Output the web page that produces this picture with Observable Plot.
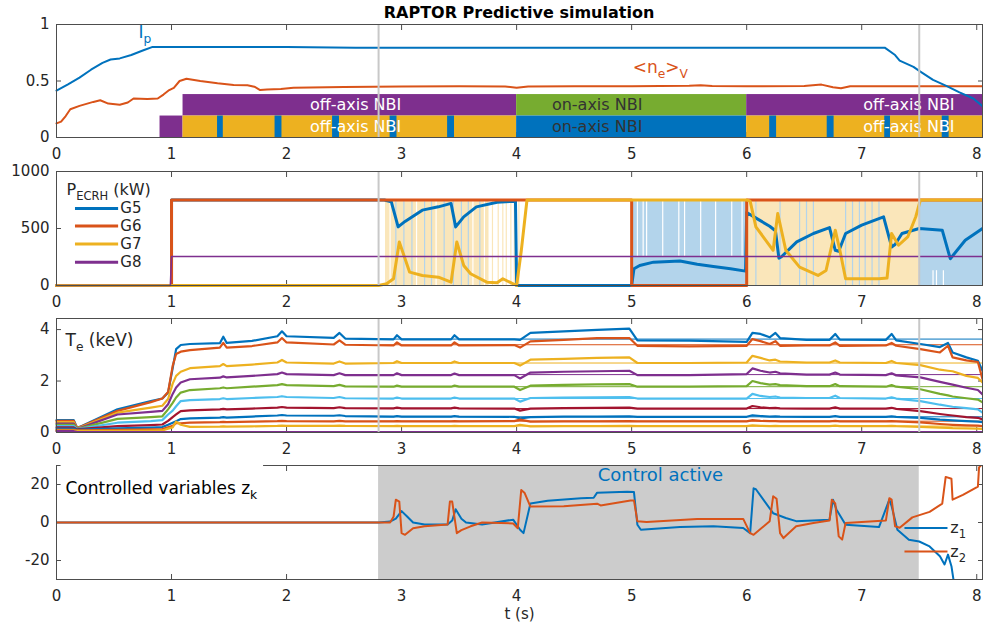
<!DOCTYPE html>
<html>
<head>
<meta charset="utf-8">
<script src="https://cdn.jsdelivr.net/npm/d3@7"></script>
<script src="https://cdn.jsdelivr.net/npm/@observablehq/plot@0.6"></script>
<style>
  html, body { margin: 0; padding: 0; background: #fff; }
  #chart { position: relative; width: 983px; height: 631px; font-family: "DejaVu Sans", sans-serif; overflow: hidden; }
  #chart svg { position: absolute; left: 0; }
  #title { position: absolute; top: 5px; left: 56px; width: 926px; text-align: center; font-weight: bold; font-size: 16px; line-height: 16px; color: #000; z-index: 5; }
</style>
</head>
<body>
<div id="chart"><div id="title">RAPTOR Predictive simulation</div></div>
<script>
// ---------------- data ----------------
const tDomain = [0, 8.05];
const tTicks = [0, 1, 2, 3, 4, 5, 6, 7, 8];
const controlWindow = [2.8, 7.5];

// Panel 1: plasma current and density (normalised)
const ipT = [0,0.1,0.2,0.3,0.4,0.47,0.55,0.65,0.75,0.83,0.9,1.5,2.0,2.6,3.0,4.0,5.0,6.0,7.0,7.2,7.29,7.33,7.45,7.5,7.62,7.74,7.85,7.97,8.05];
const ipV = [0.415,0.47,0.53,0.60,0.66,0.69,0.70,0.73,0.77,0.80,0.80,0.80,0.80,0.795,0.795,0.795,0.795,0.795,0.795,0.795,0.73,0.68,0.625,0.59,0.51,0.455,0.40,0.345,0.277];
const neT = [0,0.04,0.08,0.12,0.2,0.32,0.38,0.45,0.55,0.62,0.67,0.79,0.88,0.93,0.98,1.02,1.07,1.13,1.25,1.4,1.54,1.66,1.72,1.77,1.83,1.95,2.06,2.5,3.0,3.5,3.9,4.0,4.1,4.5,5.0,5.5,5.6,5.7,6.0,6.5,6.65,6.75,6.82,6.9,7.5,8.05];
const neV = [0.125,0.14,0.19,0.25,0.28,0.315,0.33,0.30,0.29,0.31,0.345,0.34,0.345,0.38,0.42,0.44,0.50,0.52,0.50,0.48,0.465,0.462,0.45,0.42,0.425,0.43,0.44,0.448,0.452,0.454,0.452,0.44,0.452,0.454,0.454,0.458,0.462,0.456,0.454,0.456,0.468,0.445,0.435,0.454,0.454,0.454];
const nbiUpper = [
  {t1: 1.10, t2: 4.0, beam: "off"},
  {t1: 4.0, t2: 6.0, beam: "on"},
  {t1: 6.0, t2: 8.05, beam: "off"}
];
const nbiLower = [
  {t1: 0.90, t2: 1.10, beam: "pre"},
  {t1: 1.10, t2: 4.0, beam: "off"},
  {t1: 4.0, t2: 6.0, beam: "on"},
  {t1: 6.0, t2: 8.05, beam: "off"}
];
const nbiNotches = [[1.40,1.45],[1.90,1.96],[2.40,2.46],[2.90,2.96],[3.40,3.46],[6.20,6.26],[6.70,6.76],[7.20,7.25],[7.70,7.76]];
const nbiRows = {lower: [0, 0.19], upper: [0.19, 0.38]};
const nbiLabels = [
  {t: 2.6, row: "upper", text: "off-axis NBI", beam: "off"},
  {t: 2.6, row: "lower", text: "off-axis NBI", beam: "off"},
  {t: 4.7, row: "upper", text: "on-axis NBI", beam: "on"},
  {t: 4.7, row: "lower", text: "on-axis NBI", beam: "on"},
  {t: 7.41, row: "upper", text: "off-axis NBI", beam: "off"},
  {t: 7.41, row: "lower", text: "off-axis NBI", beam: "off"}
];

// Panel 2: ECRH power per gyrotron (kW)
const g5 = [[0,0],[1.0,0],[1.0,750],[2.85,750],[2.91,735],[2.97,514],[3.03,562],[3.18,661],[3.32,690],[3.43,720],[3.47,514],[3.54,602],[3.65,690],[3.83,730],[3.99,740],[4.0,0],[5.0,0],[5.02,147],[5.07,176],[5.19,205],[5.42,215],[5.57,186],[5.71,166],[5.86,147],[5.99,126],[6.0,640],[6.1,580],[6.2,520],[6.25,480],[6.28,240],[6.3,250],[6.435,382],[6.58,456],[6.72,508],[6.77,309],[6.8,300],[6.86,456],[7.0,529],[7.19,602],[7.26,338],[7.29,360],[7.35,456],[7.5,500],[7.7,485],[7.77,235],[7.9,397],[8.05,500]];
const g6 = [[0,0],[1.0,0],[1.0,750],[5.0,750],[5.0,0],[6.0,0],[6.0,750],[8.05,750]];
const g7 = [[0,0],[2.8,0],[2.87,15],[2.93,59],[2.98,382],[3.03,235],[3.07,117],[3.18,88],[3.32,73],[3.43,29],[3.48,382],[3.54,176],[3.6,103],[3.74,29],[3.83,25],[3.88,59],[3.94,29],[4.0,0],[4.04,300],[4.09,750],[6.0,750],[6.03,740],[6.08,514],[6.23,309],[6.27,632],[6.34,309],[6.46,161],[6.62,88],[6.69,132],[6.77,485],[6.81,309],[6.86,59],[7.15,59],[7.22,65],[7.26,456],[7.32,353],[7.4,426],[7.47,603],[7.51,750],[8.05,750]];
const g8 = [[0,0],[0.99,0],[1.0,255],[8.05,255]];
const ecrhMax = 750;
const ecrhBands = [
  {t1: 2.86, t2: 3.76, g: "G7"},
  {t1: 5.0, t2: 6.0, g: "G5"},
  {t1: 6.0, t2: 7.5, g: "G7"},
  {t1: 7.5, t2: 8.05, g: "G5"}
];
const stripeYellowT = [3.79,3.84,3.88,3.91,3.95,3.98,4.02];
const stripeBlueEarlyT = [2.95,3.02,3.09,3.2,3.26,3.37,3.45,3.52,3.58,3.68];
const stripeGapEarlyT = [2.9,3.13,3.3,3.62,3.72];
const stripeGapMidT = [5.05,5.1,5.13,5.27,5.41,5.46,5.6,5.73,5.87,5.96];
const stripeBlueLateT = [6.08,6.29,6.46,6.52,6.58,6.86,6.92,6.98,7.03,7.09,7.15];
const stripeGapLateT = [7.62,7.65,7.71];
const ecrhStripes = [
  ...stripeYellowT.map(t => ({t, p1: 0, p2: 750, g: "G7"})),
  ...stripeBlueEarlyT.map(t => ({t, p1: 0, p2: 750, g: "G5"})),
  ...stripeGapEarlyT.map(t => ({t, p1: 0, p2: 750, g: "none"})),
  ...stripeGapMidT.map(t => ({t, p1: 250, p2: 750, g: "none"})),
  ...stripeBlueLateT.map(t => ({t, p1: 0, p2: 750, g: "G5"})),
  ...stripeGapLateT.map(t => ({t, p1: 0, p2: 130, g: "none"}))
];
const ecrhLegend = [
  {name: "G5", p: 675}, {name: "G6", p: 522}, {name: "G7", p: 364}, {name: "G8", p: 205}
];

// Panel 3: electron temperature profiles (keV)
const teT = [0,0.15,0.18,0.22,0.53,0.82,0.92,0.97,1.01,1.04,1.08,1.16,1.42,1.45,1.48,1.7,1.92,1.96,2.0,2.41,2.46,2.51,2.93,2.96,3.0,3.43,3.46,3.5,3.98,4.03,4.12,4.41,4.7,4.98,5.05,5.5,6.0,6.05,6.12,6.2,6.25,6.29,6.52,6.72,6.77,6.81,7.21,7.26,7.3,7.51,7.68,7.75,7.79,7.91,8.01,8.05];
const te1 = [0.48,0.48,0.18,0.25,0.90,1.22,1.32,1.55,2.50,3.24,3.40,3.44,3.47,3.72,3.48,3.56,3.74,3.93,3.74,3.68,3.87,3.65,3.62,3.78,3.62,3.62,3.78,3.62,3.62,3.60,3.87,3.93,3.99,4.04,3.58,3.57,3.52,3.87,3.83,3.70,3.87,3.67,3.60,3.60,3.83,3.61,3.60,3.83,3.58,3.44,3.32,3.48,3.11,2.92,2.79,2.40];
const te2 = [0.45,0.45,0.17,0.24,0.84,1.18,1.32,1.57,2.59,3.05,3.14,3.20,3.30,3.48,3.30,3.36,3.50,3.67,3.50,3.42,3.58,3.41,3.38,3.50,3.38,3.38,3.50,3.38,3.40,3.30,3.54,3.60,3.67,3.67,3.37,3.35,3.37,3.63,3.55,3.44,3.55,3.37,3.38,3.38,3.50,3.37,3.38,3.48,3.37,3.24,3.11,3.37,2.92,2.80,2.74,2.07];
const te3 = [0.40,0.40,0.16,0.22,0.77,0.97,1.04,1.30,1.90,2.20,2.36,2.50,2.58,2.66,2.58,2.64,2.72,2.82,2.72,2.68,2.76,2.68,2.70,2.77,2.70,2.70,2.76,2.70,2.70,2.60,2.83,2.86,2.90,2.92,2.70,2.70,2.72,2.98,2.90,2.80,2.83,2.76,2.72,2.72,2.80,2.72,2.70,2.78,2.70,2.62,2.44,2.40,2.38,2.20,2.12,1.94];
const te4 = [0.35,0.35,0.15,0.20,0.70,0.80,0.84,1.10,1.50,1.75,1.94,2.07,2.13,2.18,2.14,2.20,2.27,2.33,2.27,2.23,2.30,2.23,2.23,2.30,2.23,2.23,2.29,2.23,2.23,2.10,2.33,2.36,2.38,2.40,2.23,2.23,2.27,2.49,2.40,2.33,2.36,2.30,2.25,2.25,2.33,2.25,2.23,2.30,2.22,2.14,1.97,1.90,1.86,1.74,1.65,1.48];
const te5 = [0.30,0.30,0.14,0.18,0.53,0.60,0.63,0.90,1.15,1.36,1.55,1.65,1.72,1.75,1.72,1.78,1.84,1.88,1.84,1.80,1.85,1.79,1.78,1.82,1.78,1.78,1.82,1.78,1.78,1.65,1.82,1.85,1.87,1.88,1.78,1.78,1.80,2.00,1.92,1.86,1.88,1.84,1.80,1.80,1.88,1.80,1.78,1.84,1.78,1.68,1.50,1.44,1.40,1.33,1.28,1.17];
const te6 = [0.25,0.25,0.13,0.16,0.38,0.44,0.48,0.70,0.85,1.02,1.22,1.26,1.30,1.33,1.30,1.34,1.38,1.41,1.38,1.34,1.38,1.33,1.32,1.36,1.32,1.32,1.36,1.32,1.32,1.20,1.34,1.36,1.37,1.38,1.32,1.32,1.32,1.50,1.42,1.38,1.40,1.36,1.34,1.34,1.43,1.34,1.32,1.37,1.32,1.22,1.08,1.03,1.00,0.95,0.90,0.77];
const te7 = [0.20,0.20,0.12,0.14,0.25,0.29,0.31,0.45,0.60,0.70,0.83,0.86,0.90,0.92,0.90,0.93,0.97,0.99,0.97,0.95,0.98,0.95,0.94,0.97,0.94,0.94,0.97,0.94,0.93,0.85,0.93,0.95,0.96,0.97,0.93,0.93,0.93,1.03,0.98,0.95,0.96,0.94,0.93,0.93,0.98,0.93,0.93,0.96,0.92,0.83,0.72,0.68,0.66,0.60,0.57,0.51];
const te8 = [0.15,0.15,0.10,0.11,0.16,0.19,0.21,0.30,0.38,0.44,0.52,0.55,0.58,0.60,0.58,0.62,0.66,0.68,0.66,0.65,0.67,0.64,0.62,0.64,0.62,0.62,0.64,0.62,0.61,0.55,0.60,0.62,0.62,0.63,0.61,0.61,0.61,0.67,0.64,0.62,0.63,0.62,0.61,0.61,0.64,0.61,0.61,0.63,0.61,0.57,0.50,0.48,0.47,0.44,0.42,0.40];
const te9 = [0.10,0.10,0.08,0.08,0.10,0.12,0.13,0.20,0.26,0.36,0.36,0.38,0.40,0.41,0.40,0.42,0.44,0.45,0.44,0.43,0.45,0.43,0.43,0.44,0.43,0.43,0.44,0.43,0.44,0.50,0.42,0.43,0.43,0.44,0.43,0.43,0.43,0.48,0.45,0.44,0.44,0.43,0.43,0.43,0.45,0.43,0.43,0.44,0.43,0.39,0.33,0.31,0.30,0.28,0.27,0.25];
const te10 = [0.07,0.07,0.06,0.06,0.06,0.07,0.08,0.15,0.20,0.42,0.30,0.22,0.23,0.24,0.23,0.24,0.26,0.27,0.26,0.26,0.27,0.26,0.25,0.26,0.25,0.25,0.26,0.25,0.25,0.30,0.24,0.25,0.25,0.26,0.25,0.25,0.25,0.28,0.26,0.25,0.26,0.25,0.25,0.25,0.27,0.25,0.25,0.26,0.25,0.22,0.19,0.18,0.17,0.16,0.15,0.14];
const te11 = [0.05,0.05,0.02,0.02,0.02,0.02,0.02,0.02,0.02,0.02,0.02,0.02,0.02,0.02,0.02,0.02,0.02,0.02,0.02,0.02,0.02,0.02,0.02,0.02,0.02,0.02,0.02,0.02,0.02,0.02,0.02,0.02,0.02,0.02,0.02,0.02,0.02,0.02,0.02,0.02,0.02,0.02,0.02,0.02,0.02,0.02,0.02,0.02,0.02,0.02,0.02,0.02,0.02,0.02,0.02,0.02];
const teRefLevels = [3.63,3.41,2.70,2.25,1.78,1.32,0.93,0.61,0.44,0.25];
const teRefSpan = [2.8, 8.05];

// Panel 4: controlled variables
const z1 = [[0,0],[2.8,0],[2.9,0.5],[2.95,2],[3.0,6],[3.05,3],[3.1,0],[3.2,-1],[3.4,-1],[3.44,1],[3.47,7],[3.52,2],[3.56,0],[3.7,-1],[3.97,1.5],[4.03,-3.8],[4.06,-5.6],[4.12,10],[4.27,11.4],[4.56,12.8],[4.67,13],[4.7,15.7],[4.96,16.2],[5.02,16],[5.05,-1.2],[5.08,-3.8],[5.42,-2.4],[5.71,-2],[5.97,-2.9],[6.03,-5.6],[6.06,18],[6.08,17.5],[6.23,4.9],[6.34,2.4],[6.43,0.7],[6.72,1.5],[6.75,12],[6.78,6.9],[6.86,-1.2],[7.15,-2.4],[7.24,12],[7.26,8.6],[7.31,-3.8],[7.41,-9.1],[7.5,-10],[7.59,-12.6],[7.68,-17.8],[7.72,-22.1],[7.75,-16.9],[7.78,-23],[7.8,-31]];
const z2 = [[0,0],[2.8,0],[2.9,0],[2.93,3],[2.95,12],[2.98,11],[3.0,-5.6],[3.03,-6.5],[3.1,-3],[3.2,-2],[3.4,-1],[3.42,11],[3.44,11],[3.48,-5.6],[3.52,-4],[3.6,-2],[3.7,0],[3.97,-0.5],[4.01,-3],[4.04,17.1],[4.07,15.5],[4.12,8.4],[4.41,8.6],[4.7,9.9],[4.73,9],[4.99,11.6],[5.02,11.6],[5.05,0.6],[5.13,0.3],[5.57,1.9],[5.97,1.9],[6.03,-5.6],[6.06,-6.5],[6.2,0.7],[6.23,13.8],[6.26,12.5],[6.29,-5.6],[6.32,-8.2],[6.43,-2],[6.58,-0.3],[6.72,1],[6.74,12],[6.77,10],[6.8,-7.3],[6.83,-9],[6.86,-0.3],[7.21,1],[7.24,12.8],[7.26,12],[7.29,-2],[7.33,-2.8],[7.44,2.7],[7.59,5.6],[7.7,9.9],[7.73,24],[7.78,23],[7.79,12],[7.88,14.5],[8.01,18.9],[8.02,29],[8.05,31]];
const zLegend = [{name: "z_{1}", z: -2.9, s: "z1"}, {name: "z_{2}", z: -15.2, s: "z2"}];

// ---------------- styles ----------------
const FONT = "DejaVu Sans";
const INK = "#262626";
const FRAME = "#4d4d4d";
const C = {blue: "#0072BD", orange: "#D95319", yellow: "#EDB120", purple: "#7E2F8E", green: "#77AC30", cyan: "#4DBEEE", red: "#A2142F"};
const LIGHT = {G5: "#B3D4EB", G7: "#FAE6BA", none: "#ffffff"};
const teColors = [C.blue, C.orange, C.yellow, C.purple, C.green, C.cyan, C.red, C.blue, C.orange, C.yellow, C.purple];
const gColors = {G5: C.blue, G6: C.orange, G7: C.yellow, G8: C.purple};
const zColors = {z1: C.blue, z2: C.orange};
const nbiUpperColor = {off: C.purple, on: C.green};
const nbiLowerColor = {pre: C.purple, off: C.yellow, on: C.blue};
const plainNum = d => String(d);

// ---------------- helpers ----------------
const pairs = arr => arr.map(([t, v]) => ({t, v}));
const series = (t, v) => t.map((x, i) => ({t: x, v: v[i]}));

function tickMarks(yTicks) {
  return [
    Plot.axisX({ticks: tTicks, tickSize: -5, fill: "none", stroke: FRAME, label: null}),
    Plot.axisX({anchor: "top", ticks: tTicks, tickSize: -5, fill: "none", stroke: FRAME, label: null}),
    Plot.axisY({ticks: yTicks, tickSize: -5, fill: "none", stroke: FRAME, label: null}),
    Plot.axisY({anchor: "right", ticks: yTicks, tickSize: -5, fill: "none", stroke: FRAME, label: null})
  ];
}
function tickLabels(yTicks) {
  return [
    Plot.axisX({ticks: tTicks, tickSize: 0, tickPadding: 11, tickFormat: plainNum, label: null, fill: INK}),
    Plot.axisY({ticks: yTicks, tickSize: 0, tickPadding: 7, tickFormat: plainNum, label: null, fill: INK})
  ];
}
function applySubscripts(svg) {
  svg.querySelectorAll("text").forEach(el => {
    if (el.querySelector("tspan")) return;
    const s = el.textContent;
    if (!s.includes("_{")) return;
    const re = /_\{([^}]*)\}/g;
    const parts = [];
    let last = 0, m;
    while ((m = re.exec(s))) {
      if (m.index > last) parts.push([s.slice(last, m.index), false]);
      parts.push([m[1], true]);
      last = re.lastIndex;
    }
    if (last < s.length) parts.push([s.slice(last), false]);
    el.textContent = "";
    let down = false;
    for (const [txt, sub] of parts) {
      const ts = document.createElementNS("http://www.w3.org/2000/svg", "tspan");
      ts.textContent = txt;
      if (sub) {
        ts.setAttribute("font-size", "0.72em");
        if (!down) { ts.setAttribute("dy", "5"); down = true; }
      } else if (down) { ts.setAttribute("dy", "-5"); down = false; }
      el.appendChild(ts);
    }
  });
}
function panel({top, height, marginTop, marginBottom, yDomain, yTicks, marks, overlay = []}) {
  const svg = Plot.plot({
    width: 983, height, marginLeft: 56, marginRight: 1, marginTop, marginBottom,
    x: {domain: tDomain},
    y: {domain: yDomain},
    color: {type: "identity"},
    style: {fontFamily: FONT, fontSize: "15px", color: INK, background: "transparent", overflow: "visible"},
    marks: [...tickMarks(yTicks), ...marks, Plot.frame({stroke: FRAME}), ...overlay, ...tickLabels(yTicks)]
  });
  svg.style.top = top + "px";
  applySubscripts(svg);
  document.getElementById("chart").appendChild(svg);
}

// ---------------- panel 1 ----------------
panel({
  top: 0, height: 165, marginTop: 24, marginBottom: 28,
  yDomain: [0, 1], yTicks: [0, 0.5, 1],
  marks: [
    Plot.rect(nbiUpper, {x1: "t1", x2: "t2", y1: nbiRows.upper[0], y2: nbiRows.upper[1], fill: d => nbiUpperColor[d.beam]}),
    Plot.rect(nbiLower, {x1: "t1", x2: "t2", y1: nbiRows.lower[0], y2: nbiRows.lower[1], fill: d => nbiLowerColor[d.beam]}),
    Plot.rect(nbiNotches, {x1: d => d[0], x2: d => d[1], y1: nbiRows.lower[0], y2: nbiRows.lower[1], fill: C.blue}),
    Plot.text(nbiLabels, {x: "t", y: d => (nbiRows[d.row][0] + nbiRows[d.row][1]) / 2, text: "text", fill: d => d.beam === "on" ? "#333333" : "#ffffff", fontSize: 16}),
    Plot.line(series(neT, neV), {x: "t", y: "v", stroke: C.orange, strokeWidth: 2}),
    Plot.line(series(ipT, ipV), {x: "t", y: "v", stroke: C.blue, strokeWidth: 2}),
    Plot.text(["I_{p}"], {x: 0.712, y: 0.93, textAnchor: "start", fill: C.blue, fontSize: 17}),
    Plot.text(["<n_{e}>_{V}"], {x: 5.01, y: 0.62, textAnchor: "start", fill: C.orange, fontSize: 17}),
    Plot.ruleX(controlWindow, {stroke: "#c8c8c8", strokeWidth: 2})
  ]
});

// ---------------- panel 2 ----------------
const gSeries = [
  {g: "G5", data: pairs(g5), w: 3},
  {g: "G6", data: pairs(g6), w: 3},
  {g: "G7", data: pairs(g7), w: 3},
  {g: "G8", data: pairs(g8), w: 1.6}
];
panel({
  top: 165, height: 147, marginTop: 6, marginBottom: 27,
  yDomain: [0, 1000], yTicks: [0, 500, 1000],
  marks: [
    Plot.rect(ecrhBands, {x1: "t1", x2: "t2", y1: 0, y2: ecrhMax, fill: d => LIGHT[d.g]}),
    Plot.ruleX(ecrhStripes, {x: "t", y1: "p1", y2: "p2", stroke: d => LIGHT[d.g], strokeWidth: 1.2}),
    ...gSeries.map(s => Plot.line(s.data, {x: "t", y: "v", stroke: gColors[s.g], strokeWidth: s.w})),
    Plot.ruleY(ecrhLegend, {y: "p", x1: 0.165, x2: 0.54, stroke: d => gColors[d.name], strokeWidth: 3}),
    Plot.text(ecrhLegend, {y: "p", x: 0.555, text: "name", textAnchor: "start", fill: INK, fontSize: 15}),
    Plot.text(["P_{ECRH} (kW)"], {frameAnchor: "top-left", dx: 10, dy: 12, textAnchor: "start", fill: INK, fontSize: 16}),
    Plot.ruleX(controlWindow, {stroke: "#c8c8c8", strokeWidth: 2})
  ]
});

// ---------------- panel 3 ----------------
const teSeries = [te1, te2, te3, te4, te5, te6, te7, te8, te9, te10, te11];
const teData = teSeries.flatMap((vals, s) => vals.map((v, j) => ({t: teT[j], v, s})));
const teRefData = teRefLevels.flatMap((v, s) => teRefSpan.map(t => ({t, v, s})));
panel({
  top: 312, height: 147, marginTop: 6, marginBottom: 27,
  yDomain: [0, 4.43], yTicks: [0, 2, 4],
  marks: [
    Plot.line(teRefData, {x: "t", y: "v", z: "s", stroke: d => teColors[d.s], strokeWidth: 1}),
    Plot.line(teData, {x: "t", y: "v", z: "s", stroke: d => teColors[d.s], strokeWidth: 2.2}),
    Plot.text(["T_{e} (keV)"], {frameAnchor: "top-left", dx: 9, dy: 15, textAnchor: "start", fill: INK, fontSize: 17}),
    Plot.ruleX(controlWindow, {stroke: "#c8c8c8", strokeWidth: 2})
  ]
});

// ---------------- panel 4 ----------------
panel({
  top: 459, height: 172, marginTop: 6, marginBottom: 52,
  yDomain: [-30, 30], yTicks: [-20, 0, 20],
  marks: [
    Plot.rect([controlWindow], {x1: d => d[0], x2: d => d[1], fill: "#cccccc"}),
    Plot.line(pairs(z1), {x: "t", y: "v", stroke: zColors.z1, strokeWidth: 2, clip: true}),
    Plot.line(pairs(z2), {x: "t", y: "v", stroke: zColors.z2, strokeWidth: 2, clip: true}),
    Plot.ruleY(zLegend, {y: "z", x1: 7.376, x2: 7.75, stroke: d => zColors[d.s], strokeWidth: 2}),
    Plot.text(zLegend, {y: "z", x: 7.77, text: "name", textAnchor: "start", fill: INK, fontSize: 16}),
    Plot.text(["Control active"], {x: 5.25, y: 25, fill: C.blue, fontSize: 18})
  ],
  overlay: [
    Plot.rect([{t1: 0.04, t2: 1.8}], {x1: "t1", x2: "t2", y1: 12, y2: 30.7, fill: "#ffffff"}),
    Plot.text(["Controlled variables z_{k}"], {frameAnchor: "top-left", dx: 9, dy: 16, textAnchor: "start", fill: "#000000", fontSize: 17}),
    Plot.text(["t (s)"], {frameAnchor: "bottom", dy: 39, fill: INK, fontSize: 15})
  ]
});
</script>
</body>
</html>
